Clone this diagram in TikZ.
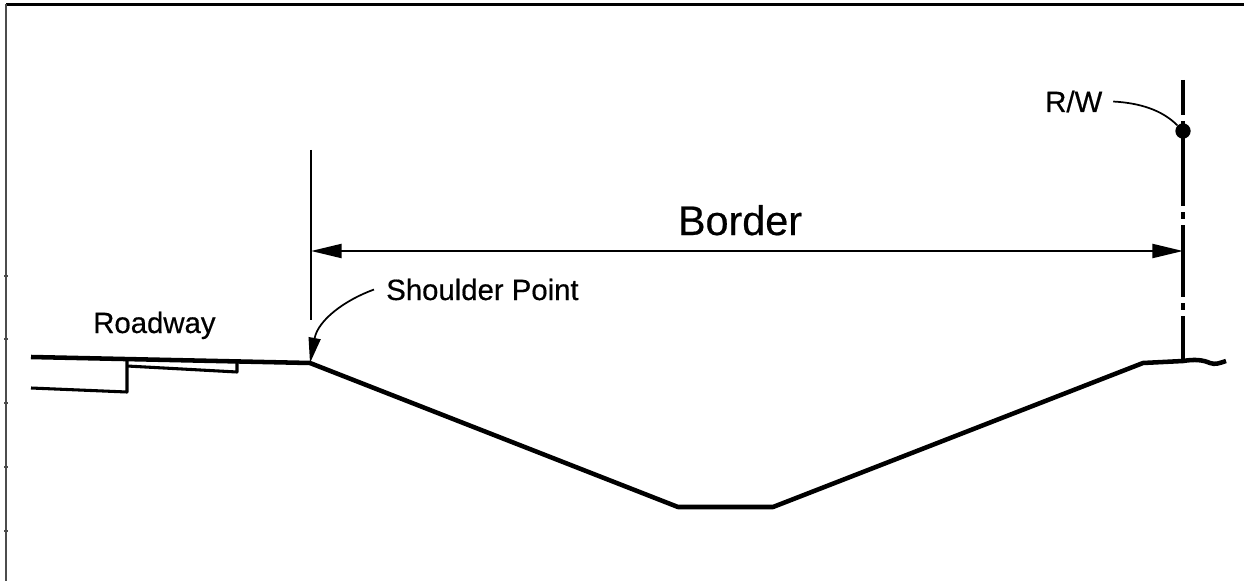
\documentclass[tikz,border=0pt]{standalone}
\usepackage{fontspec}
\setmainfont{Liberation Sans}
\usepackage{tikz}
\usetikzlibrary{positioning,calc,arrows.meta}

\begin{document}
\begin{tikzpicture}[x=0.75pt, y=-0.75pt,
    ground line/.style={line width=3.4pt, line join=round},
    base line/.style={line width=2.3pt, line join=round},
    dim line/.style={line width=1.6pt},
    leader line/.style={line width=1.3pt},
    rw line/.style={line width=2.3pt, dash pattern=on 54pt off 4.5pt on 5.25pt off 4.5pt, dash phase=27.75pt},
    label text/.style={inner sep=0pt, anchor=base west, font=\fontsize{22}{26}\selectfont\addfontfeatures{FakeBold=0.5}},
    dim tip/.tip={Triangle[length=23pt, width=10.5pt]},
    leader tip/.tip={Triangle[length=19pt, width=9pt]}]

    \useasboundingbox (0,0) rectangle (1244,581);

    % sheet frame
    \draw [line width=1.6pt] (6,4.5) -- (1244,4.5);
    \draw [line width=1.3pt, black!70] (6,4.5) -- (6,581);
    \foreach \y in {276,339,403,467,531}
        \draw [line width=0.8pt, black!70] (4,\y) -- (8,\y);

    % profile points
    \coordinate (shoulder) at (310,363);
    \coordinate (ditchL) at (678,507);
    \coordinate (ditchR) at (773,507);
    \coordinate (hinge) at (1143,363);
    \coordinate (rwfoot) at (1183,361);

    % roadway and ditch section
    \draw [ground line] (31,357) -- (shoulder) -- (ditchL) -- (ditchR) -- (hinge) -- (rwfoot)
        .. controls (1195,359) and (1203,360) .. (1210,363)
        .. controls (1215,365) and (1220,363) .. (1226,361);
    \draw [base line] (31,388) -- (127,392) -- (127,359);
    \draw [base line] (127,366) -- (237,372) -- (237,361);

    % limits of the border
    \coordinate (extTop) at (311,150);
    \coordinate (extBot) at (311,320);
    \coordinate (rwTop) at (1183,80);
    \draw [dim line] (extTop) -- (extBot);
    \draw [rw line] (rwTop) -- (rwfoot);

    \coordinate (dimL) at (311,251);
    \coordinate (dimR) at (1183,251);
    \draw [dim line, {dim tip}-{dim tip}] (dimL) -- (dimR);
    \node [inner sep=0pt, anchor=base, font=\fontsize{31}{36}\selectfont\addfontfeatures{FakeBold=0.5}] (border) at (740,235) {Border};

    % labels
    \node [label text] (road) at (93,333) {Roadway};
    \node [label text] (shtext) at (386,300) {Shoulder Point};
    \node [label text] (rw) at (1045,112) {R/W};
    \node [circle, fill, inner sep=0pt, minimum size=11.5pt] (rwdot) at (1183,131) {};

    \draw [leader line, -{leader tip}] ([xshift=-9pt]shtext.west)
        .. controls (345,300) and (318,320) .. (shoulder);
    \draw [leader line] ([xshift=8pt]rw.east) .. controls (1140,103) and (1162,110) .. (rwdot);

\end{tikzpicture}
\end{document}
